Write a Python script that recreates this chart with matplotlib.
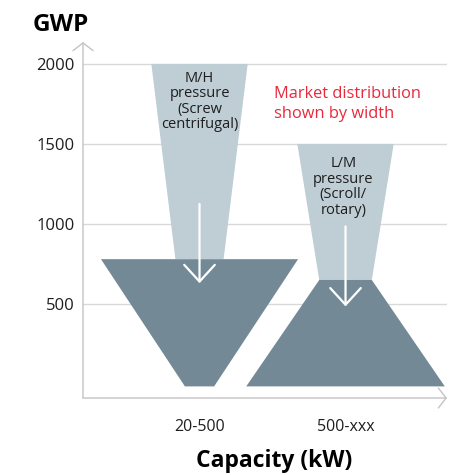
"""Refrigerant GWP vs. compressor capacity: market shift sketch."""

import matplotlib
matplotlib.use("Agg")
import matplotlib.pyplot as plt
from matplotlib.patches import Polygon

plt.rcParams["font.family"] = ["Open Sans", "DejaVu Sans"]

# --- data ---
categories = ["20-500", "500-xxx"]
yticks = [500, 1000, 1500, 2000]

# today's market (light): GWP span and width (= market share) at each end
today_top_gwp = [2000, 1500]
today_bottom_gwp = [780, 650]
today_top_width = [0.66, 0.66]
today_bottom_width = [0.33, 0.36]

# future market (dark)
future_top_gwp = [780, 650]
future_bottom_gwp = [-15, -15]
future_top_width = [1.35, 0.36]
future_bottom_width = [0.20, 1.36]

# downward shift arrows (start, end GWP)
arrow_start = [1125, 985]
arrow_end = [630, 485]

labels = ["M/H\npressure\n(Screw\ncentrifugal)", "L/M\npressure\n(Scroll/\nrotary)"]
label_gwp = [1765, 1230]

LIGHT = "#bfcdd4"
DARK = "#738a96"
AXIS = "#c4c4c4"
GRID = "#d9d9d9"


def trapezoid(cx, y_top, y_bot, w_top, w_bot, color):
    pts = [(cx - w_top / 2, y_top), (cx + w_top / 2, y_top),
           (cx + w_bot / 2, y_bot), (cx - w_bot / 2, y_bot)]
    return Polygon(pts, closed=True, facecolor=color, edgecolor="none", zorder=3)


fig = plt.figure(figsize=(4.56, 4.75), dpi=100)
ax = fig.add_axes([83 / 456, 1 - 398 / 475, (447 - 83) / 456, (398 - 42) / 475])
ax.set_xlim(0.202, 2.695)
ax.set_ylim(-87.5, 2137)

for s in ax.spines.values():
    s.set_visible(False)

# grid
for y in yticks:
    ax.axhline(y, color=GRID, lw=1, zorder=1)

# axes with open arrowheads
arrow_kw = dict(arrowstyle="->,head_length=0.35,head_width=0.45", color=AXIS,
                lw=1, mutation_scale=16, shrinkA=0, shrinkB=0)
ax.annotate("", xy=(0, 1), xytext=(0, 0), xycoords="axes fraction", arrowprops=arrow_kw)
ax.annotate("", xy=(1, 0), xytext=(0, 0), xycoords="axes fraction", arrowprops=arrow_kw)

for i in range(len(categories)):
    cx = i + 1
    ax.add_patch(trapezoid(cx, today_top_gwp[i], today_bottom_gwp[i],
                           today_top_width[i], today_bottom_width[i], LIGHT))
    ax.add_patch(trapezoid(cx, future_top_gwp[i], future_bottom_gwp[i],
                           future_top_width[i], future_bottom_width[i], DARK))
    ax.annotate("", xy=(cx, arrow_end[i]), xytext=(cx, arrow_start[i]),
                arrowprops=dict(arrowstyle="->,head_length=0.6,head_width=0.55",
                                color="white", lw=1.6, mutation_scale=20,
                                shrinkA=0, shrinkB=0),
                zorder=5)
    ax.text(cx - 0.015 * i, label_gwp[i], labels[i], ha="center", va="center",
            fontsize=10.5, linespacing=1.05, color="#1e1e1e", zorder=6)

ax.text(1.51, 1750, "Market distribution\nshown by width", ha="left", va="center",
        fontsize=11.8, linespacing=1.4, color="#e8283c")

ax.set_yticks(yticks)
ax.set_yticklabels([str(v) for v in yticks], fontsize=12)
ax.set_xticks([1, 2])
ax.set_xticklabels(categories, fontsize=11.5)
ax.tick_params(axis="both", length=0, labelcolor="#1e1e1e")
ax.tick_params(axis="y", pad=6)
ax.tick_params(axis="x", pad=15)

fig.text(33 / 456, 1 - 25 / 475, "GWP", fontsize=17.5, fontweight="bold",
         ha="left", va="center")
fig.text(274 / 456, 1 - 461 / 475, "Capacity (kW)", fontsize=16.5, fontweight="bold",
         ha="center", va="center")

fig.savefig("out.png", dpi=100)
